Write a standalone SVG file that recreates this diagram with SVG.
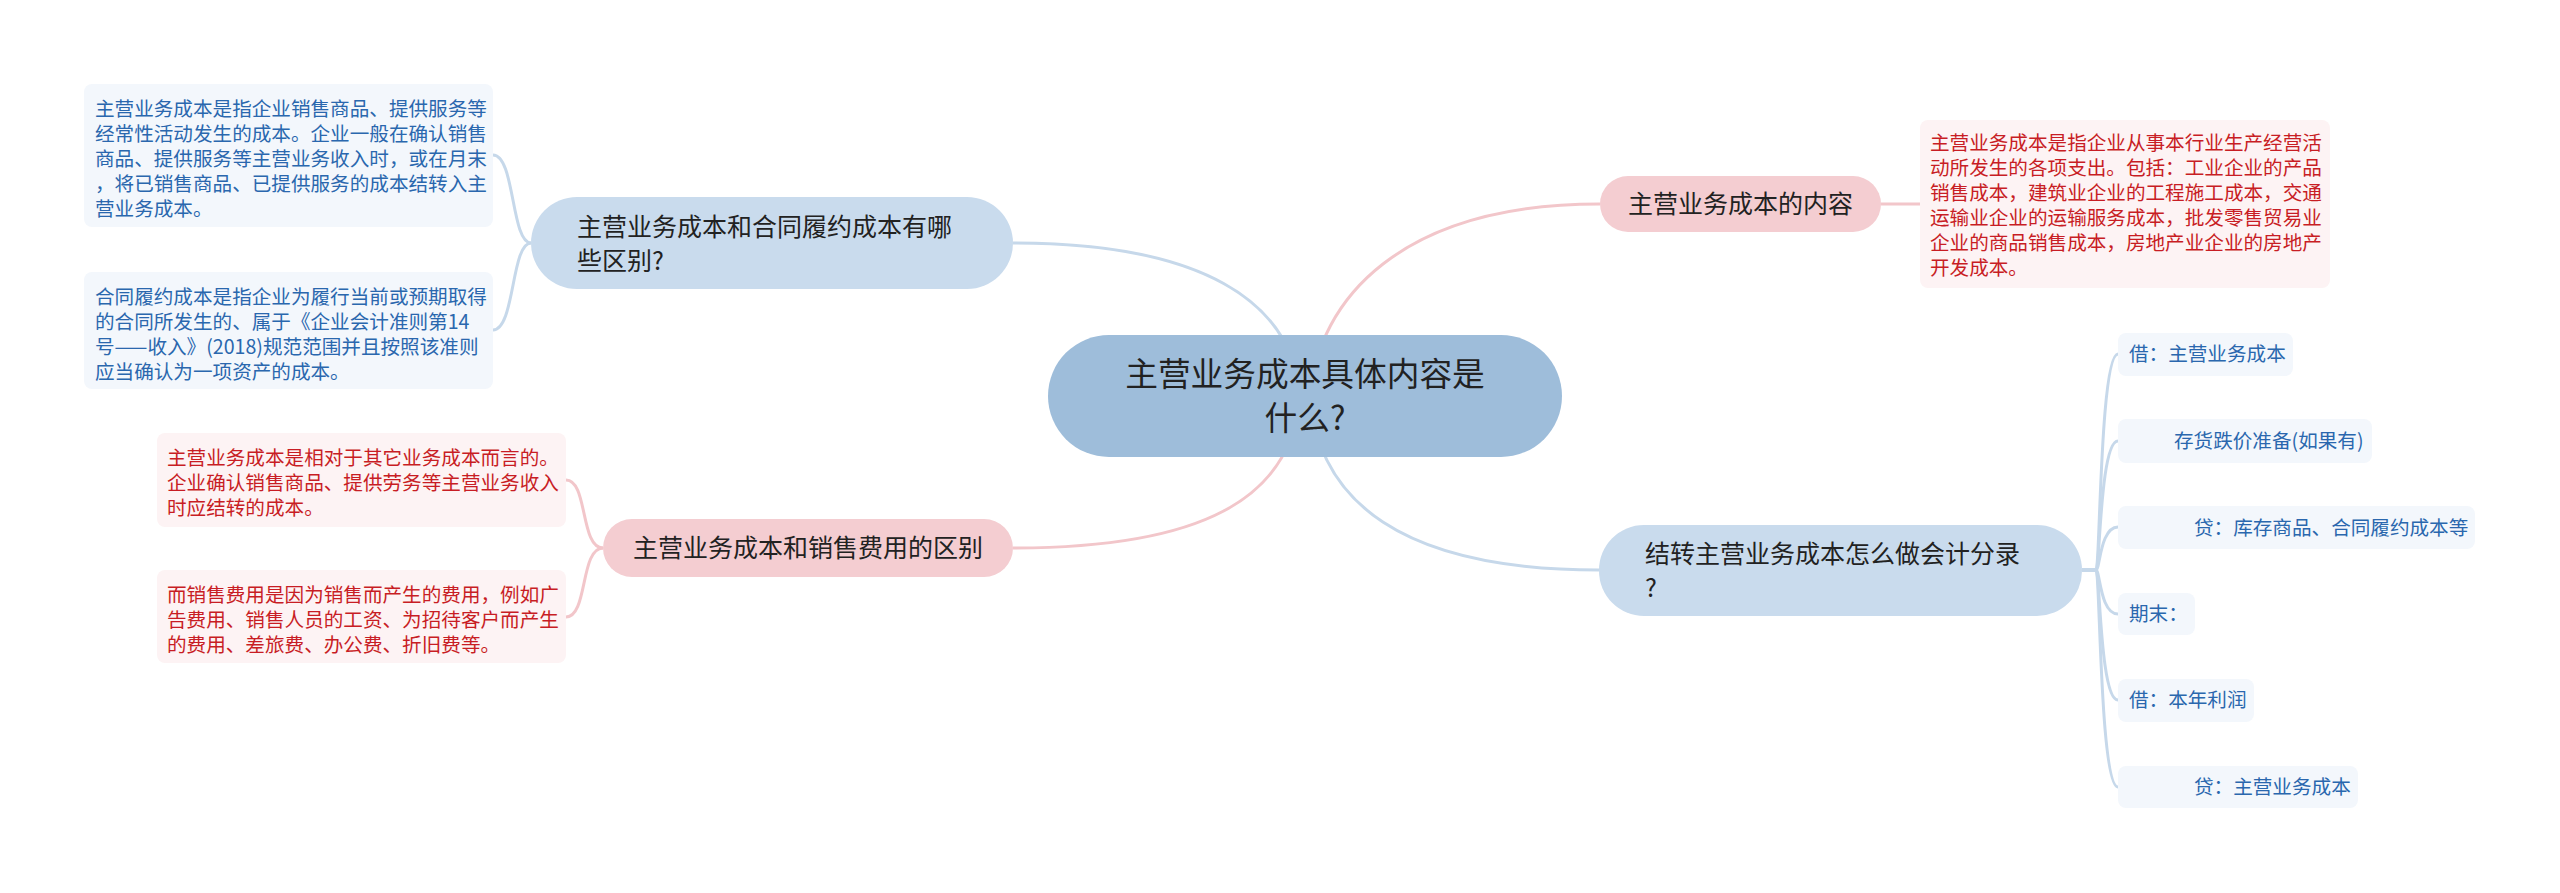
<svg xmlns="http://www.w3.org/2000/svg" width="2560" height="893" viewBox="0 0 2560 893">
<style>
text{font-family:"Noto Sans CJK SC","Noto Sans",sans-serif}
.lb{fill:none;stroke:#c6d8ea;stroke-width:3}
.lp{fill:none;stroke:#f2c6ca;stroke-width:3}
.nb{fill:#c9dbed}
.np{fill:#f4cdd1}
.nc{fill:#9ebdda}
.bb{fill:#f3f7fc}
.bp{fill:#fdf3f4}
.tn{font-size:25px;fill:#222}
.tc{font-size:32.7px;fill:#222}
.tsb{font-size:19.6px;fill:#2a67ae}
.tsp{font-size:19.6px;fill:#c81d24}
</style>
<rect width="2560" height="893" fill="#ffffff"/>
<g id="connectors">
<path class="lb" d="M1300,396 C1292,300 1200,243 1013,243"/>
<path class="lp" d="M1310,396 C1318,300 1400,204 1600,204"/>
<path class="lp" d="M1300,396 C1292,500 1200,548 1013,548"/>
<path class="lb" d="M1310,396 C1318,500 1400,570 1599,570"/>
<path class="lb" d="M531,243 C511,243 515,155 493,155"/>
<path class="lb" d="M531,243 C511,243 515,330 493,330"/>
<path class="lp" d="M603,548 C580,548 588,480 566,480"/>
<path class="lp" d="M603,548 C580,548 588,617 566,617"/>
<path class="lp" d="M1881,204 L1920,204"/>
<path class="lb" d="M2082,570 L2096,570 C2100,570 2100,354 2118,354"/>
<path class="lb" d="M2082,570 L2096,570 C2100,570 2100,441 2118,441"/>
<path class="lb" d="M2082,570 L2096,570 C2100,570 2100,527 2118,527"/>
<path class="lb" d="M2082,570 L2096,570 C2100,570 2100,614 2118,614"/>
<path class="lb" d="M2082,570 L2096,570 C2100,570 2100,700 2118,700"/>
<path class="lb" d="M2082,570 L2096,570 C2100,570 2100,787 2118,787"/>
</g>
<g id="center">
<rect class="nc" x="1048" y="335" width="514" height="122" rx="61"/>
<text class="tc" x="1305" y="386" text-anchor="middle">主营业务成本具体内容是</text>
<text class="tc" x="1305" y="430" text-anchor="middle">什么?</text>
</g>
<g id="n-diff-contract">
<rect class="nb" x="531" y="197" width="482" height="92" rx="46"/>
<text class="tn" x="577" y="236">主营业务成本和合同履约成本有哪</text>
<text class="tn" x="577" y="270">些区别?</text>
</g>
<g id="n-diff-contract-a">
<rect class="bb" x="84" y="84" width="409" height="143" rx="8"/>
<text class="tsb" x="95" y="116">主营业务成本是指企业销售商品、提供服务等</text>
<text class="tsb" x="95" y="141">经常性活动发生的成本。企业一般在确认销售</text>
<text class="tsb" x="95" y="166">商品、提供服务等主营业务收入时，或在月末</text>
<text class="tsb" x="95" y="191">，将已销售商品、已提供服务的成本结转入主</text>
<text class="tsb" x="95" y="216">营业务成本。</text>
</g>
<g id="n-diff-contract-b">
<rect class="bb" x="84" y="272" width="409" height="117" rx="8"/>
<text class="tsb" x="95" y="304">合同履约成本是指企业为履行当前或预期取得</text>
<text class="tsb" x="95" y="329">的合同所发生的、属于《企业会计准则第14</text>
<text class="tsb" x="95" y="354">号——收入》(2018)规范范围并且按照该准则</text>
<text class="tsb" x="95" y="379">应当确认为一项资产的成本。</text>
</g>
<g id="n-diff-sales">
<rect class="np" x="603" y="519" width="410" height="58" rx="29"/>
<text class="tn" x="633" y="557">主营业务成本和销售费用的区别</text>
</g>
<g id="n-diff-sales-a">
<rect class="bp" x="157" y="433" width="409" height="94" rx="8"/>
<text class="tsp" x="167" y="465">主营业务成本是相对于其它业务成本而言的。</text>
<text class="tsp" x="167" y="490">企业确认销售商品、提供劳务等主营业务收入</text>
<text class="tsp" x="167" y="515">时应结转的成本。</text>
</g>
<g id="n-diff-sales-b">
<rect class="bp" x="157" y="570" width="409" height="93" rx="8"/>
<text class="tsp" x="167" y="602">而销售费用是因为销售而产生的费用，例如广</text>
<text class="tsp" x="167" y="627">告费用、销售人员的工资、为招待客户而产生</text>
<text class="tsp" x="167" y="652">的费用、差旅费、办公费、折旧费等。</text>
</g>
<g id="n-content">
<rect class="np" x="1600" y="176" width="281" height="56" rx="28"/>
<text class="tn" x="1628" y="213">主营业务成本的内容</text>
</g>
<g id="n-content-a">
<rect class="bp" x="1920" y="120" width="410" height="168" rx="8"/>
<text class="tsp" x="1930" y="150">主营业务成本是指企业从事本行业生产经营活</text>
<text class="tsp" x="1930" y="175">动所发生的各项支出。包括：工业企业的产品</text>
<text class="tsp" x="1930" y="200">销售成本，建筑业企业的工程施工成本，交通</text>
<text class="tsp" x="1930" y="225">运输业企业的运输服务成本，批发零售贸易业</text>
<text class="tsp" x="1930" y="250">企业的商品销售成本，房地产业企业的房地产</text>
<text class="tsp" x="1930" y="275">开发成本。</text>
</g>
<g id="n-entry">
<rect class="nb" x="1599" y="525" width="483" height="91" rx="45"/>
<text class="tn" x="1645" y="563">结转主营业务成本怎么做会计分录</text>
<text class="tn" x="1645" y="597">?</text>
</g>
<g id="n-entry-1">
<rect class="bb" x="2118" y="333" width="175" height="43" rx="8"/>
<text class="tsb" x="2129" y="361">借：主营业务成本</text>
</g>
<g id="n-entry-2">
<rect class="bb" x="2118" y="419" width="254" height="44" rx="8"/>
<text class="tsb" x="2174" y="448">存货跌价准备(如果有)</text>
</g>
<g id="n-entry-3">
<rect class="bb" x="2118" y="506" width="357" height="43" rx="8"/>
<text class="tsb" x="2194" y="535">贷：库存商品、合同履约成本等</text>
</g>
<g id="n-entry-4">
<rect class="bb" x="2118" y="593" width="77" height="42" rx="8"/>
<text class="tsb" x="2129" y="621">期末：</text>
</g>
<g id="n-entry-5">
<rect class="bb" x="2118" y="679" width="136" height="43" rx="8"/>
<text class="tsb" x="2129" y="707">借：本年利润</text>
</g>
<g id="n-entry-6">
<rect class="bb" x="2118" y="766" width="240" height="42" rx="8"/>
<text class="tsb" x="2194" y="794">贷：主营业务成本</text>
</g>
</svg>
